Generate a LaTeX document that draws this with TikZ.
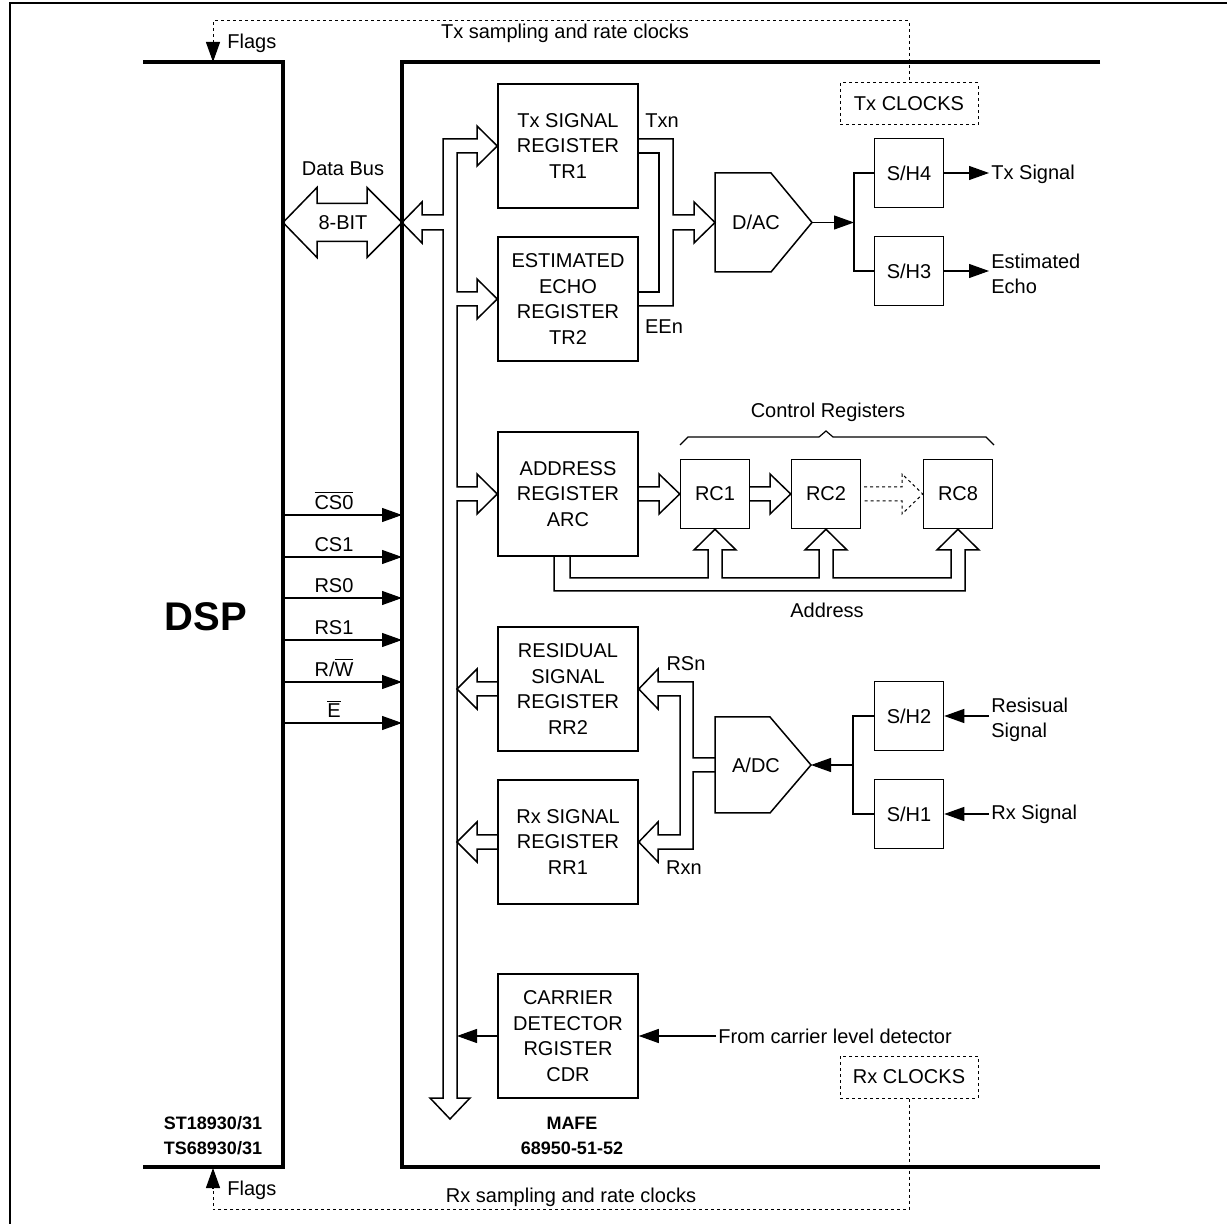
\documentclass[tikz,border=0pt]{standalone}
\usepackage{fontspec}
\setmainfont{Liberation Sans}
\usetikzlibrary{arrows.meta, positioning, calc}
\newcommand{\ovl}[1]{$\overline{\mbox{#1}}$}

\begin{document}
\begin{tikzpicture}[x=0.5pt, y=-0.5pt,
  regbox/.style={draw, line width=0.75pt, minimum width=70pt, minimum height=62pt, inner sep=0pt, align=center, font=\fontsize{10}{12.8}\selectfont},
  smallbox/.style={draw, line width=0.75pt, minimum width=34.5pt, minimum height=34.5pt, inner sep=0pt, font=\fontsize{10}{12}\selectfont},
  clkbox/.style={draw, line width=0.5pt, dash pattern=on 1.5pt off 1.5pt, minimum width=69pt, minimum height=21pt, inner sep=0pt, font=\fontsize{10}{12}\selectfont},
  lbl/.style={inner sep=1pt, font=\fontsize{10}{12.8}\selectfont},
  partlbl/.style={inner sep=0pt, align=center, font=\fontsize{9}{12.5}\selectfont\bfseries},
  wire/.style={line width=0.6pt},
  sarrow/.style={line width=0.6pt, -{Triangle[length=10pt, width=7pt]}},
  hollow/.style={line width=0.75pt, line join=miter},
  clk/.style={line width=0.5pt, dash pattern=on 1.5pt off 1.5pt},
  chip/.style={line width=2pt}]
  \useasboundingbox (0,0) rectangle (1227,1224);

  % page frame
  \draw[line width=1.2pt] (10,1224) -- (10,3) -- (1227,3);

  % DSP and MAFE outlines
  \draw[chip] (143,62) -- (283,62) -- (283,1167) -- (143,1167);
  \draw[chip] (1100,62) -- (402,62) -- (402,1167) -- (1100,1167);
  \node[font=\fontsize{20}{24}\selectfont\bfseries] (dsp) at (206,617) {DSP};
  \node[partlbl] (dspref) at (213,1136) {ST18930/31\\TS68930/31};
  \node[partlbl] (mafe) at (572,1136) {MAFE\\68950-51-52};

  % clocks and flags
  \node[clkbox] (txclk) at (909,104) {Tx CLOCKS};
  \node[clkbox] (rxclk) at (909,1077) {Rx CLOCKS};
  \draw[clk] (213,43) -- (213,21) -| (txclk.north);
  \draw[sarrow] (213,42) -- (213,62);
  \node[lbl, anchor=west] (flagtop) at (225,43) {Flags};
  \node[lbl] (txsamp) at (565,33) {Tx sampling and rate clocks};
  \draw[clk] (rxclk.south) |- (213,1209) -- (213,1188);
  \draw[sarrow] (213,1188) -- (213,1168);
  \node[lbl, anchor=west] (flagbot) at (225,1190) {Flags};
  \node[lbl] (rxsamp) at (571,1197) {Rx sampling and rate clocks};

  % registers
  \node[regbox] (tr1) at (568,146) {Tx SIGNAL\\REGISTER\\TR1};
  \node[regbox] (tr2) at (568,299) {ESTIMATED\\ECHO\\REGISTER\\TR2};
  \node[regbox] (arc) at (568,494) {ADDRESS\\REGISTER\\ARC};
  \node[regbox] (rr2) at (568,689) {RESIDUAL\\SIGNAL\\REGISTER\\RR2};
  \node[regbox] (rr1) at (568,842) {Rx SIGNAL\\REGISTER\\RR1};
  \node[regbox] (cdr) at (568,1036) {CARRIER\\DETECTOR\\RGISTER\\CDR};

  \node[smallbox] (rc1) at (715,494) {RC1};
  \node[smallbox] (rc2) at (826,494) {RC2};
  \node[smallbox] (rc8) at (958,494) {RC8};

  \node[smallbox] (sh4) at (909,173) {S/H4};
  \node[smallbox] (sh3) at (909,271) {S/H3};
  \node[smallbox] (sh2) at (909,716) {S/H2};
  \node[smallbox] (sh1) at (909,814) {S/H1};

  % converters
  \draw[hollow] (715,173) -- (771,173) -- (812,222.5) -- (771,272) -- (715,272) -- cycle;
  \node[lbl] (dac) at (756,222.5) {D/AC};
  \coordinate (dactip) at (812,222.5);
  \draw[hollow] (715,717) -- (770,717) -- (811,765) -- (770,813) -- (715,813) -- cycle;
  \node[lbl] (adc) at (756,765) {A/DC};
  \coordinate (adctip) at (811,765);

  % data bus
  \draw[hollow] (283,222.5) -- (317,187.5) -- (317,203.5) -- (367,203.5) -- (367,187.5) -- (402,222.5)
    -- (367,257.5) -- (367,241.5) -- (317,241.5) -- (317,257.5) -- cycle;
  \node[lbl] (databus) at (343,169) {Data Bus};
  \node[lbl] (busw) at (343,223) {8-BIT};
  \draw[hollow] (tr1.west) -- (477,126) -- (477,139) -- (443,139) -- (443,215) -- (422,215) -- (422,202)
    -- (402,222.5) -- (422,243) -- (422,230) -- (443,230) -- (443,1098) -- (430,1098) -- (450,1119)
    -- (470,1098) -- (457,1098) -- (457,501) -- (477,501) -- (477,514) -- (arc.west) -- (477,474)
    -- (477,487) -- (457,487) -- (457,306) -- (477,306) -- (477,319) -- (tr2.west) -- (477,279)
    -- (477,292) -- (457,292) -- (457,153) -- (477,153) -- (477,166) -- cycle;
  \draw[hollow] (498,682) -- (477,682) -- (477,669) -- (457,689) -- (477,709) -- (477,696) -- (498,696);
  \draw[hollow] (498,835) -- (477,835) -- (477,822) -- (457,842) -- (477,862) -- (477,849) -- (498,849);

  % transmit side
  \draw[hollow] (638,139) -- (673,139) -- (673,215) -- (694,215) -- (694,202) -- (715,222.5)
    -- (694,243) -- (694,230) -- (673,230) -- (673,306) -- (638,306);
  \draw[hollow] (638,153) -- (659,153) -- (659,292) -- (638,292);
  \node[lbl] (txn) at (662,121) {Txn};
  \node[lbl] (een) at (664,327) {EEn};
  \coordinate (txjoin) at (854,222.5);
  \draw[sarrow] (dactip) -- (txjoin);
  \draw[wire] (sh4.west) -| (txjoin) |- (sh3.west);
  \node[lbl, anchor=west] (txsig) at (989,174) {Tx Signal};
  \node[lbl, anchor=west, align=left] (estecho) at (989,274) {Estimated\\Echo};
  \draw[sarrow] (sh4.east) -- (sh4.east -| txsig.west);
  \draw[sarrow] (sh3.east) -- (sh3.east -| estecho.west);

  % control registers
  \draw[hollow] (638,487) -- (659,487) -- (659,474) -- (rc1.west) -- (659,514) -- (659,501) -- (638,501);
  \draw[hollow] (749,487) -- (770,487) -- (770,474) -- (rc2.west) -- (770,514) -- (770,501) -- (749,501);
  \draw[clk] (864,487) -- (902,487) -- (902,474) -- (rc8.west) -- (902,514) -- (902,501) -- (864,501);
  \draw[hollow] (554,556) -- (554,591) -- (965,591) -- (965,550) -- (979,550) -- (rc8.south) -- (937,550)
    -- (951,550) -- (951,578) -- (833,578) -- (833,550) -- (847,550) -- (rc2.south) -- (805,550)
    -- (819,550) -- (819,578) -- (722,578) -- (722,550) -- (736,550) -- (rc1.south) -- (694,550)
    -- (708,550) -- (708,578) -- (570,578) -- (570,556);
  \draw[wire] (680,445) -- (688,437) -- (819,437) -- (826,431) -- (833,437) -- (986,437) -- (994,445);
  \node[lbl] (ctrlreg) at (828,412) {Control Registers};
  \node[lbl] (addr) at (827,610) {Address};

  % receive side
  \draw[hollow] (715,758) -- (693,758) -- (693,682) -- (658,682) -- (658,669) -- (rr2.east) -- (658,709)
    -- (658,696) -- (680,696) -- (680,835) -- (658,835) -- (658,822) -- (rr1.east) -- (658,862)
    -- (658,849) -- (693,849) -- (693,772) -- (715,772);
  \node[lbl] (rsn) at (686,664) {RSn};
  \node[lbl] (rxn) at (684,868) {Rxn};
  \coordinate (rxjoin) at (853,765);
  \draw[wire] (sh2.west) -| (rxjoin) |- (sh1.west);
  \draw[sarrow] (rxjoin) -- (adctip);
  \node[lbl, anchor=west, align=left] (ressig) at (989,720) {Resisual\\Signal};
  \node[lbl, anchor=west] (rxsig) at (989,814) {Rx Signal};
  \draw[sarrow] (sh2.east -| ressig.west) -- (sh2.east);
  \draw[sarrow] (rxsig.west) -- (sh1.east);

  % carrier detect
  \node[lbl, anchor=west] (carrier) at (716,1036) {From carrier level detector};
  \coordinate (cdrin) at (457,1036);
  \draw[sarrow] (carrier.west) -- (cdr.east);
  \draw[sarrow] (cdr.west) -- (cdrin);

  % control lines
  \foreach \y/\txt [count=\i] in {515/{\ovl{CS0}}, 557/{CS1}, 598/{RS0}, 640/{RS1}, 682/{R/\ovl{W}}, 723/{\ovl{E}}} {
    \coordinate (sigs\i) at (283,\y);
    \coordinate (sige\i) at (402,\y);
    \draw[sarrow] (sigs\i) -- (sige\i);
    \node[lbl, anchor=south] (sigl\i) at (334,\y-3) {\txt};
  }
\end{tikzpicture}
\end{document}
